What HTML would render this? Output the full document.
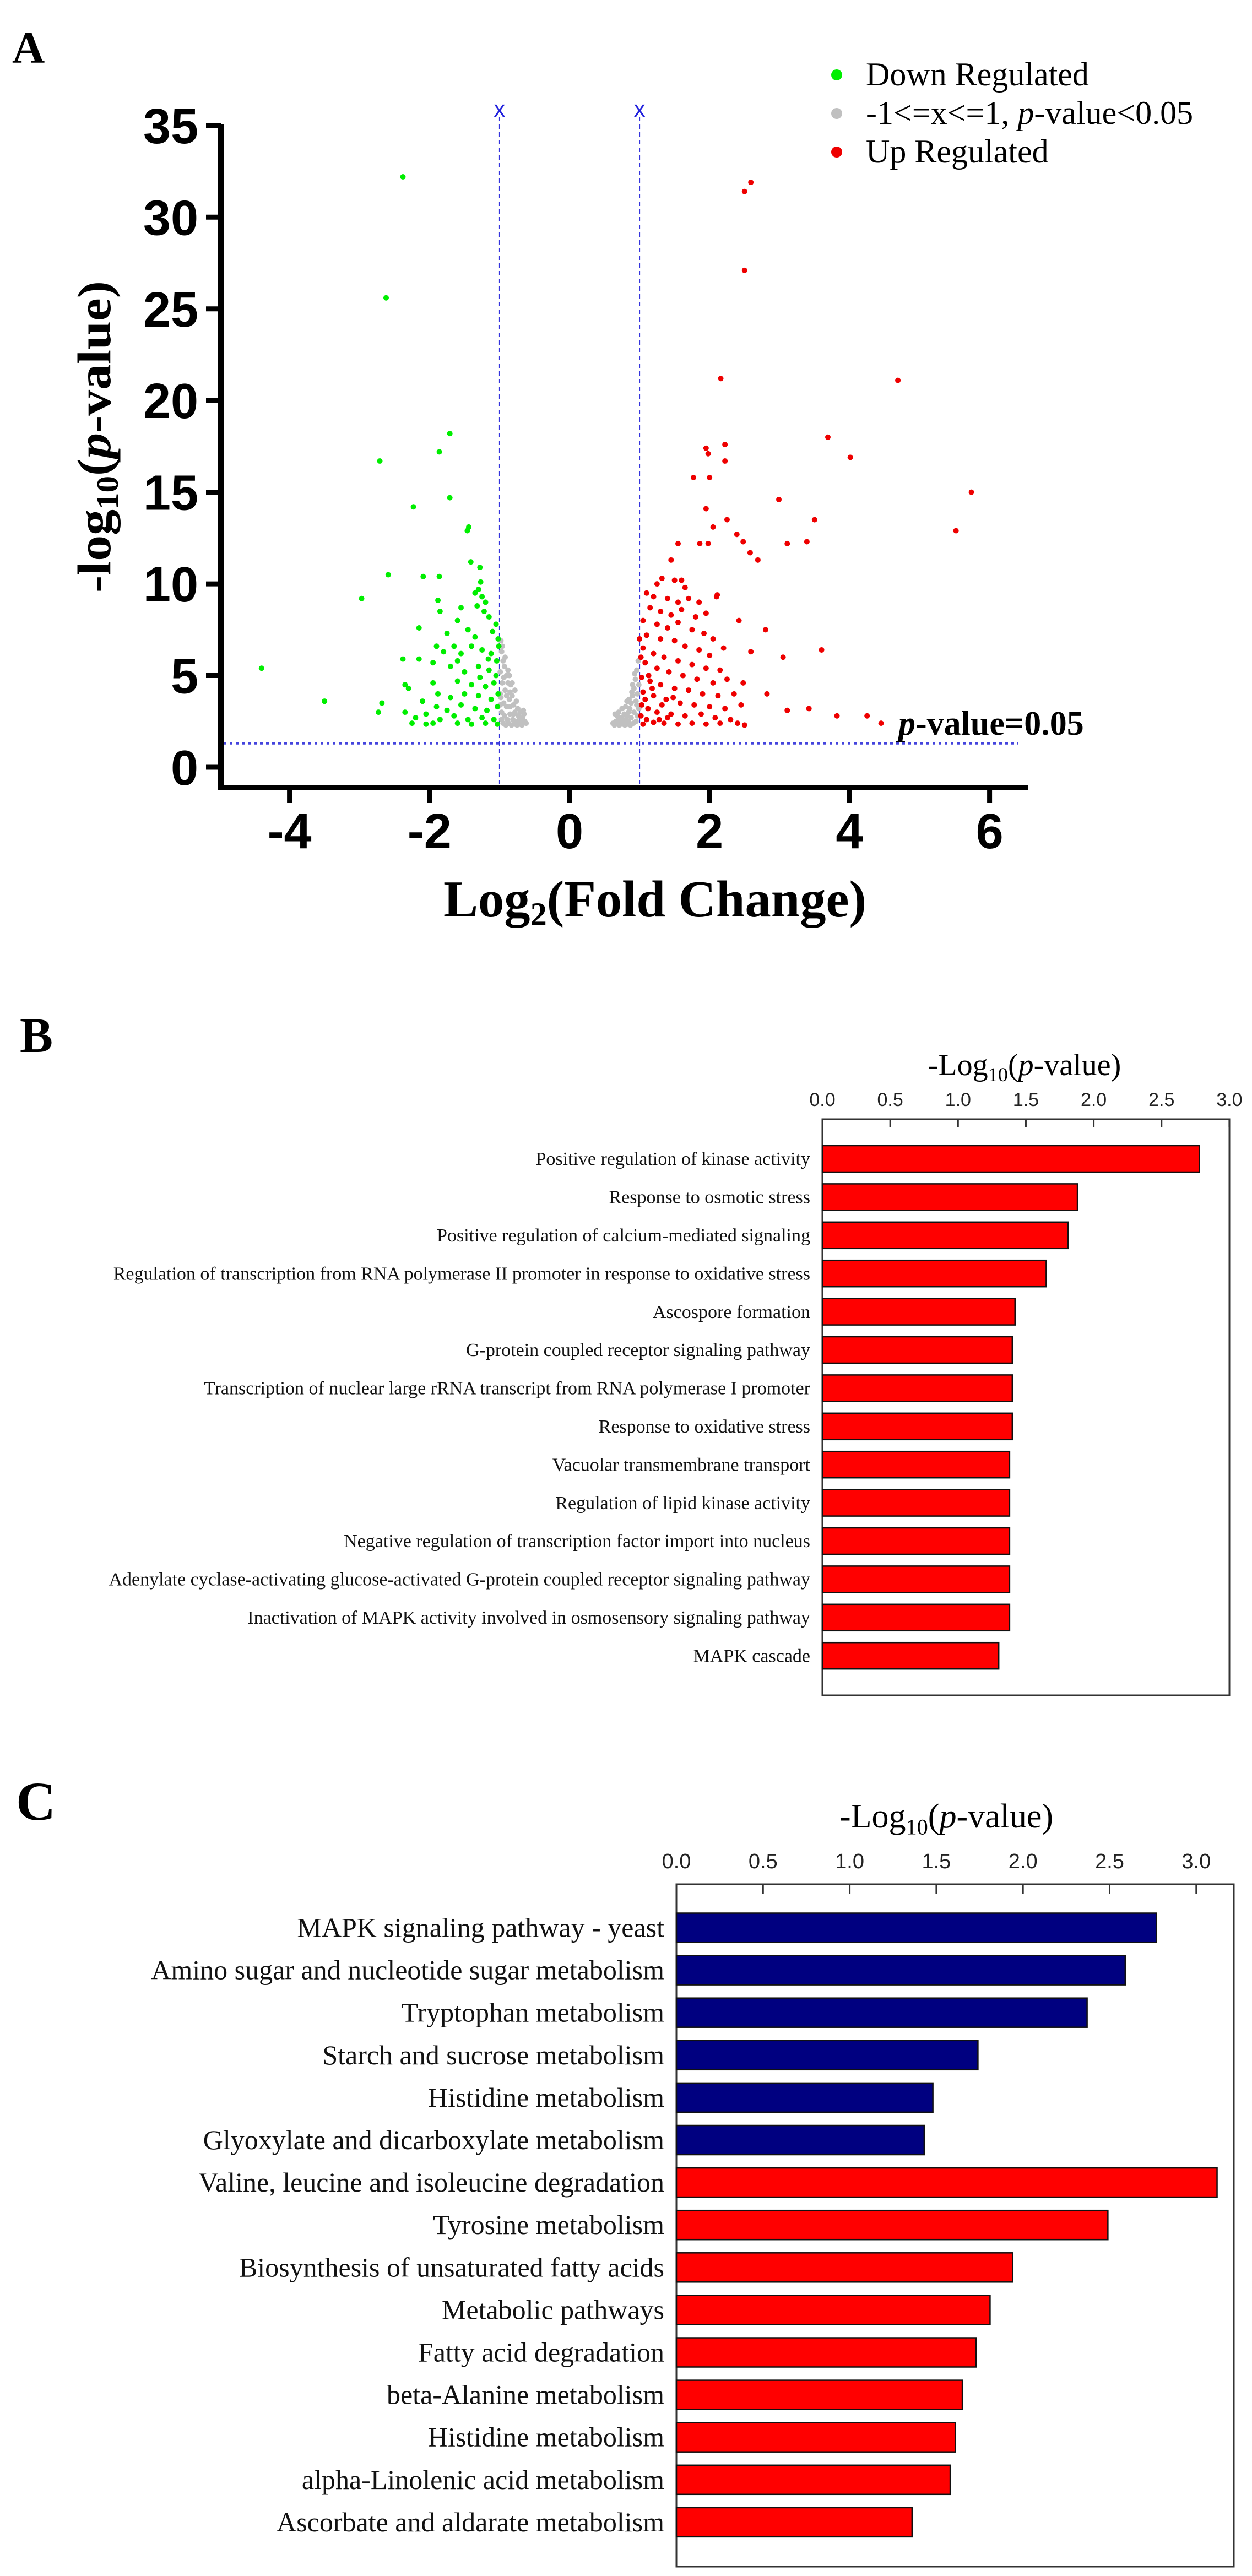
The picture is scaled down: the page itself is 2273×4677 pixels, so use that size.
<!DOCTYPE html>
<html><head><meta charset="utf-8"><style>
html,body{margin:0;padding:0;background:#fff}
svg{display:block}
text{font-family:"Liberation Serif",serif}
.sans{font-family:"Liberation Sans",sans-serif}
</style></head><body>
<svg id="fig" xmlns="http://www.w3.org/2000/svg" width="2273" height="4677" viewBox="0 0 2273 4677">
<rect width="2273" height="4677" fill="#fff"/>
<g id="panelA"></g>
<g id="panelB"></g>
<g id="panelC"></g>
</svg>
<script>
// ---------- Panel A data ----------
const volXTicks = [-4,-2,0,2,4,6];
const volYTicks = [0,5,10,15,20,25,30,35];
const volThresholds = [-1,1];
const volPThreshold = 1.3;
const grayPts = [[-0.98,6.9],[-0.97,6.3],[-0.95,5.8],[-0.99,5.2],[-0.93,5.5],[-0.9,5.0],[-0.96,4.6],[-0.92,4.2],[-0.88,4.6],[-0.85,4.1],[-0.98,3.8],[-0.94,3.5],[-0.9,3.3],[-0.86,3.7],[-0.82,3.9],[-0.8,3.4],[-0.78,3.0],[-0.97,3.0],[-0.93,2.8],[-0.89,2.6],[-0.85,2.9],[-0.81,2.6],[-0.77,2.5],[-0.73,2.8],[-0.7,2.5],[-0.67,2.7],[-0.64,2.5],[-0.62,2.4],[-0.95,2.4],[-0.91,2.3],[-0.87,2.4],[-0.83,2.3],[-0.79,2.35],[-0.75,2.3],[-0.71,2.35],[-0.68,2.3],[-0.74,3.2],[-0.7,3.0],[-0.66,3.1],[-0.76,3.6],[-0.84,4.5],[-0.88,5.3],[-0.92,6.0],[-0.96,6.6],[-0.99,4.0],[-0.99,3.4],[-0.97,2.6],[-0.8,2.9],[-0.72,2.6],[-0.65,2.9],[-0.85,3.3],[-0.9,3.9],[-0.94,4.9],[-0.86,5.0],[-0.82,4.6],[-0.78,4.2],
[0.98,5.8],[0.96,5.3],[0.94,4.8],[0.99,4.5],[0.92,4.3],[0.9,3.9],[0.97,4.0],[0.95,3.6],[0.88,3.5],[0.86,3.2],[0.84,3.0],[0.82,2.8],[0.8,2.6],[0.78,2.9],[0.76,2.5],[0.74,2.7],[0.72,2.4],[0.7,2.6],[0.68,2.35],[0.66,2.5],[0.64,2.3],[0.62,2.4],[0.65,2.9],[0.7,3.0],[0.75,3.2],[0.8,3.3],[0.85,3.7],[0.9,4.5],[0.93,5.1],[0.99,3.2],[0.97,2.8],[0.95,2.5],[0.91,2.4],[0.87,2.3],[0.83,2.35],[0.79,2.3],[0.75,2.35],[0.71,2.3],[0.92,3.0],[0.88,2.7],[0.84,2.5],[0.96,3.4],[0.89,4.1],[0.82,3.6],[0.77,2.4],[0.68,2.8]];
const greenPts = [[-2.38,32.2],[-2.62,25.6],[-2.71,16.7],[-1.71,18.2],[-1.86,17.2],[-1.71,14.7],[-2.23,14.2],[-1.44,13.1],[-1.46,12.9],[-1.41,11.2],[-1.28,10.9],[-2.59,10.5],[-2.09,10.4],[-1.86,10.4],[-2.97,9.2],[-4.4,5.4],[-3.5,3.6],
[-1.27,10.1],[-1.3,9.7],[-1.35,9.5],[-1.25,9.3],[-1.2,9.0],[-1.32,8.8],[-1.22,8.5],[-1.15,8.2],[-1.05,7.8],[-1.1,7.4],[-1.02,7.0],[-1.88,9.1],[-1.85,8.5],[-1.55,8.7],[-1.6,8.0],[-2.15,7.6],[-1.75,7.3],[-1.45,7.5],[-1.35,7.1],[-1.9,6.6],[-1.8,6.3],[-1.65,6.6],[-1.55,6.2],[-1.4,6.6],[-1.25,6.4],[-1.12,6.2],[-2.38,5.9],[-2.15,5.9],[-1.95,5.7],[-1.7,5.5],[-1.5,5.2],[-1.3,5.5],[-1.15,5.3],[-1.05,5.0],[-2.35,4.5],[-2.3,4.3],[-1.95,4.6],[-1.6,4.7],[-1.4,4.5],[-1.2,4.4],[-1.08,4.6],[-1.88,4.0],[-1.7,3.8],[-1.5,4.0],[-1.3,3.9],[-1.12,3.7],[-2.68,3.5],[-2.1,3.6],[-1.9,3.3],[-1.75,3.1],[-1.55,3.4],[-1.35,3.2],[-1.18,3.1],[-1.03,3.3],[-2.73,3.0],[-2.35,3.0],[-2.2,2.7],[-2.05,2.9],[-1.85,2.6],[-1.65,2.8],[-1.45,2.6],[-1.25,2.7],[-1.08,2.6],[-2.25,2.4],[-2.05,2.35],[-1.95,2.4],[-1.6,2.4],[-1.4,2.35],[-1.2,2.4],[-1.03,2.35],[-1.02,4.0],[-1.04,5.8],[-1.01,6.6],[-1.16,5.9],[-1.28,4.9],[-1.6,5.8]];
const redPts = [[2.59,31.9],[2.5,31.4],[2.5,27.1],[2.16,21.2],[4.69,21.1],[3.69,18.0],[4.01,16.9],[5.74,15.0],[5.52,12.9],[2.99,14.6],[3.5,13.5],[3.39,12.3],[3.11,12.2],[1.95,17.4],[1.98,17.1],[2.22,17.6],[2.22,16.7],[1.77,15.8],[2.0,15.8],[1.95,14.1],[2.25,13.5],[2.05,13.1],[1.86,12.2],[1.98,12.2],[1.55,12.2],[2.39,12.7],[2.48,12.3],[2.58,11.7],[2.69,11.3],[1.45,11.3],[3.6,6.4],[3.05,6.0],[2.8,7.5],[2.42,8.0],[2.11,9.4],[2.82,4.0],[3.11,3.1],[3.42,3.2],[3.82,2.8],[4.25,2.8],[4.45,2.4],[2.48,4.6],[2.59,6.3],[2.4,2.4],[2.5,2.3],
[1.32,10.3],[1.25,10.0],[1.5,10.2],[1.6,10.2],[1.65,9.8],[1.1,9.5],[1.2,9.3],[1.4,9.2],[1.55,9.0],[1.7,9.2],[1.85,9.0],[2.1,9.3],[1.15,8.7],[1.3,8.5],[1.45,8.3],[1.6,8.6],[1.8,8.2],[1.95,8.4],[1.05,8.0],[1.25,7.8],[1.4,7.6],[1.55,7.9],[1.75,7.5],[1.92,7.3],[2.05,7.0],[1.1,7.2],[1.3,7.0],[1.5,6.9],[1.65,6.6],[1.85,6.4],[2.0,6.1],[2.2,6.5],[1.05,6.5],[1.2,6.2],[1.35,6.0],[1.55,5.8],[1.75,5.6],[1.95,5.4],[2.15,5.3],[1.08,5.7],[1.25,5.4],[1.42,5.2],[1.62,5.0],[1.82,4.8],[2.05,4.6],[2.25,4.8],[1.03,4.9],[1.15,4.7],[1.3,4.5],[1.5,4.3],[1.7,4.2],[1.9,4.0],[2.12,3.9],[2.35,4.0],[1.05,4.1],[1.2,3.9],[1.38,3.7],[1.58,3.5],[1.78,3.4],[2.0,3.3],[2.22,3.2],[2.45,3.4],[1.03,3.4],[1.12,3.2],[1.25,3.0],[1.45,2.9],[1.65,2.8],[1.88,2.9],[2.08,2.7],[2.3,2.6],[1.02,2.8],[1.1,2.6],[1.2,2.45],[1.35,2.4],[1.55,2.35],[1.75,2.4],[1.95,2.35],[2.15,2.4],[1.05,2.35],[1.28,2.6],[1.08,3.7],[1.18,4.3],[1.13,5.0],[1.02,6.0],[1.0,7.0],[1.32,3.4],[1.48,3.8],[1.4,2.7]];

// ---------- Panel B data ----------
const goTerms = ["Positive regulation of kinase activity","Response to osmotic stress","Positive regulation of calcium-mediated signaling","Regulation of transcription from RNA polymerase II promoter in response to oxidative stress","Ascospore formation","G-protein coupled receptor signaling pathway","Transcription of nuclear large rRNA transcript from RNA polymerase I promoter","Response to oxidative stress","Vacuolar transmembrane transport","Regulation of lipid kinase activity","Negative regulation of transcription factor import into nucleus","Adenylate cyclase-activating glucose-activated G-protein coupled receptor signaling pathway","Inactivation of MAPK activity involved in osmosensory signaling pathway","MAPK cascade"];
const goValues = [2.78,1.88,1.81,1.65,1.42,1.40,1.40,1.40,1.38,1.38,1.38,1.38,1.38,1.30];
const goTicks = [0.0,0.5,1.0,1.5,2.0,2.5,3.0];

// ---------- Panel C data ----------
const keggTerms = ["MAPK signaling pathway - yeast","Amino sugar and nucleotide sugar metabolism","Tryptophan metabolism","Starch and sucrose metabolism","Histidine metabolism","Glyoxylate and dicarboxylate metabolism","Valine, leucine and isoleucine degradation","Tyrosine metabolism","Biosynthesis of unsaturated fatty acids","Metabolic pathways","Fatty acid degradation","beta-Alanine metabolism","Histidine metabolism","alpha-Linolenic acid metabolism","Ascorbate and aldarate metabolism"];
const keggValues = [2.77,2.59,2.37,1.74,1.48,1.43,3.12,2.49,1.94,1.81,1.73,1.65,1.61,1.58,1.36];
const keggGroups = ["down","down","down","down","down","down","up","up","up","up","up","up","up","up","up"];
const keggTicks = [0.0,0.5,1.0,1.5,2.0,2.5,3.0];

const NS="http://www.w3.org/2000/svg";
function mk(tag,attrs,parent,txt){const e=document.createElementNS(NS,tag);for(const k in attrs)e.setAttribute(k,attrs[k]);if(txt!==undefined)e.textContent=txt;parent.appendChild(e);return e;}

// ===== Panel A =====
(function(){
const g=document.getElementById('panelA');
const xS=v=>1034+v*127.1, yS=v=>1393-v*33.29;
let t=mk('text',{x:22,y:114,'font-size':82,'font-weight':'bold'},g,'A');


volThresholds.forEach(v=>{
 let l=mk('line',{x1:xS(v),x2:xS(v),y1:212,y2:1428,stroke:'#3333dd','stroke-width':2,'stroke-dasharray':'8,6'},g);
 
 
 let x=mk('text',{x:xS(v),y:212,'font-size':42,fill:'#2222dd','text-anchor':'middle',class:'sans'},g,'x');
 
 
});
let hl=mk('line',{x1:406,x2:1848,y1:yS(volPThreshold),y2:yS(volPThreshold),stroke:'#4444dd','stroke-width':4,'stroke-dasharray':'5,6'},g);


let pt=mk('text',{x:1631,y:1334,'font-size':62,'font-weight':'bold'},g);


mk('tspan',{'font-style':'italic'},pt,'p');mk('tspan',{},pt,'-value=0.05');
const drawPts=(arr,col,name)=>{const pg=mk('g',{},g);
 arr.forEach(p=>{let c=mk('circle',{cx:xS(p[0]),cy:yS(p[1]),r:5,fill:col},pg);
 
 });};
drawPts(grayPts,'#c0c0c0','nonsignificant-points');
drawPts(greenPts,'#00ee00','down-regulated-points');
drawPts(redPts,'#ee0000','up-regulated-points');
let ya=mk('line',{x1:401,x2:401,y1:226,y2:1434,stroke:'#000','stroke-width':10},g);


let xa=mk('line',{x1:396,x2:1866,y1:1430,y2:1430,stroke:'#000','stroke-width':10},g);


volYTicks.forEach(v=>{
 mk('line',{x1:374,x2:401,y1:yS(v),y2:yS(v),stroke:'#000','stroke-width':9},g);
 let tl=mk('text',{x:360,y:yS(v)+32,'font-size':90,'font-weight':'bold','text-anchor':'end',class:'sans'},g,String(v));
 
 
});
volXTicks.forEach(v=>{
 mk('line',{x1:xS(v),x2:xS(v),y1:1430,y2:1458,stroke:'#000','stroke-width':9},g);
 let tl=mk('text',{x:xS(v),y:1540,'font-size':90,'font-weight':'bold','text-anchor':'middle',class:'sans'},g,String(v));
 
 
});
let yl=mk('text',{x:0,y:0,'font-size':86,'font-weight':'bold','text-anchor':'middle',transform:'translate(200,793) rotate(-90)',textLength:566,lengthAdjust:'spacingAndGlyphs'},g);


mk('tspan',{},yl,'-log');mk('tspan',{'font-size':56,dy:14},yl,'10');mk('tspan',{dy:-14},yl,'(');mk('tspan',{'font-style':'italic'},yl,'p');mk('tspan',{},yl,'-value)');
let xl=mk('text',{x:1189,y:1664,'font-size':94,'font-weight':'bold','text-anchor':'middle',textLength:768,lengthAdjust:'spacingAndGlyphs'},g);


mk('tspan',{},xl,'Log');mk('tspan',{'font-size':60,dy:16},xl,'2');mk('tspan',{dy:-16},xl,'(Fold Change)');
const leg=[['#00ee00','Down Regulated',136],['#c0c0c0',null,206],['#ee0000','Up Regulated',276]];
const lg=mk('g',{},g);
leg.forEach(L=>{
 let c=mk('circle',{cx:1519,cy:L[2],r:10,fill:L[0]},lg);
 
 
 let tx=mk('text',{x:1572,y:L[2]+19,'font-size':60},lg);
 
 
 if(L[1])tx.textContent=L[1];else{mk('tspan',{},tx,'-1<=x<=1, ');mk('tspan',{'font-style':'italic'},tx,'p');mk('tspan',{},tx,'-value<0.05');}
});
})();

function barChart(gid,letter,letterPos,terms,vals,colors,ticks,o){
const g=document.getElementById(gid);
const xS=v=>o.x0+v*o.unit;
let t=mk('text',{x:letterPos[0],y:letterPos[1],'font-size':o.letterSize,'font-weight':'bold'},g,letter);


let tt=mk('text',{x:o.titleX,y:o.titleY,'font-size':o.titleSize,'text-anchor':'middle'},g);


mk('tspan',{},tt,'-Log');mk('tspan',{'font-size':o.titleSize*0.65,dy:o.titleSize*0.2},tt,'10');mk('tspan',{dy:-o.titleSize*0.2},tt,'(');mk('tspan',{'font-style':'italic'},tt,'p');mk('tspan',{},tt,'-value)');
let box=mk('rect',{x:o.bl,y:o.bt,width:o.br-o.bl,height:o.bb-o.bt,fill:'none',stroke:'#333','stroke-width':3},g);


ticks.forEach(v=>{
 mk('line',{x1:xS(v),x2:xS(v),y1:o.bt,y2:o.bt+o.tickLen,stroke:'#333','stroke-width':3},g);
 let tl=mk('text',{x:xS(v),y:o.tickY,'font-size':o.tickSize,'text-anchor':'middle',class:'sans',fill:'#222'},g,v.toFixed(1));
 
 
});
terms.forEach((name,i)=>{
 const cy=o.y0+i*o.step;
 let b=mk('rect',{x:xS(0),y:cy-o.bh/2,width:xS(vals[i])-xS(0),height:o.bh,fill:colors[i],stroke:'#111','stroke-width':2.5},g);
 
 
 let lb=mk('text',{x:o.labelX,y:cy+o.labelSize*0.33,'font-size':o.labelSize,'text-anchor':'end',fill:'#111'},g,name);
 
 
});
}
barChart('panelB','B',[36,1910],goTerms,goValues,goValues.map(()=>'#ff0000'),goTicks,
 {x0:1493,unit:246.3,letterSize:90,titleX:1860,titleY:1952,titleSize:56,bl:1493,br:2232,bt:2032,bb:3078,tickLen:14,tickY:2008,tickSize:34,y0:2104,step:69.4,bh:48,labelX:1471,labelSize:34});
barChart('panelC','C',[29,3304],keggTerms,keggValues,keggGroups.map(k=>k==='down'?'#000080':'#ff0000'),keggTicks,
 {x0:1228,unit:314.6,letterSize:100,titleX:1718,titleY:3318,titleSize:62,bl:1228,br:2240,bt:3421,bb:4660,tickLen:18,tickY:3392,tickSize:38,y0:3500,step:77.1,bh:53,labelX:1206,labelSize:50});
</script>
</body></html>
